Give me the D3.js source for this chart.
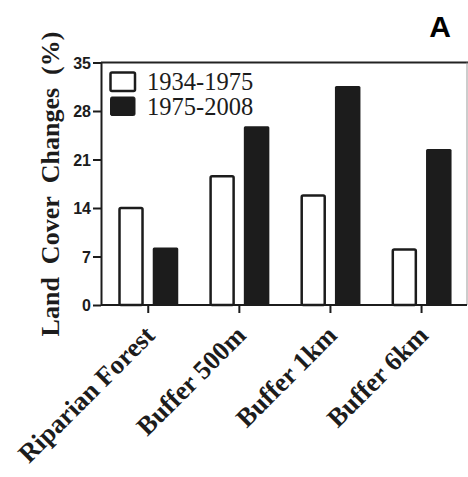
<!DOCTYPE html>
<html>
<head>
<meta charset="utf-8">
<script src="https://cdn.jsdelivr.net/npm/d3@7"></script>
<style>
  html, body { margin: 0; padding: 0; background: #fff; }
  svg { display: block; }
</style>
</head>
<body>
<svg id="chart" width="468" height="477"></svg>
<script>
const categories = ["Riparian Forest", "Buffer 500m", "Buffer 1km", "Buffer 6km"];
const seriesNames = ["1934-1975", "1975-2008"];
const values1934 = [14.0, 18.6, 15.8, 8.0];
const values1975 = [8.3, 25.8, 31.6, 22.5];
const yTicks = [0, 7, 14, 21, 28, 35];
const yTitle = "Land\u00a0 Cover\u00a0 Changes\u00a0 (%)";
const panelLabel = "A";

const svg = d3.select("#chart");
const pLeft = 101, pRight = 467, pTop = 62.5, pBottom = 305;

const x0 = d3.scaleBand().domain(categories).range([102.7, 467.1]).paddingInner(0).paddingOuter(0);
const bw = x0.bandwidth();
const x1 = d3.scaleBand().domain(seriesNames).range([bw / 2 - 30, bw / 2 + 30]).paddingInner(0.26).paddingOuter(0);
const y = d3.scaleLinear().domain([0, 35]).range([pBottom, pTop]);

const data = categories.map((c, i) => ({ cat: c, vals: [values1934[i], values1975[i]] }));

// frame lines: top and right
svg.append("line").attr("x1", pLeft).attr("x2", 468).attr("y1", pTop).attr("y2", pTop)
  .attr("stroke", "#222").attr("stroke-width", 2);
svg.append("line").attr("x1", pRight).attr("x2", pRight).attr("y1", pTop).attr("y2", pBottom)
  .attr("stroke", "#999").attr("stroke-width", 1);

// bars
const groups = svg.append("g").selectAll("g").data(data).join("g")
  .attr("transform", d => `translate(${x0(d.cat)},0)`);
groups.selectAll("rect").data(d => d.vals.map((v, j) => ({ s: seriesNames[j], v, j })))
  .join("rect")
  .attr("x", d => x1(d.s) + (d.j === 0 ? 1.25 : 0))
  .attr("width", d => x1.bandwidth() - (d.j === 0 ? 2.5 : 0))
  .attr("y", d => y(d.v))
  .attr("height", d => pBottom - y(d.v))
  .attr("rx", 1.5)
  .attr("fill", d => d.j === 0 ? "#fff" : "#1c1c1c")
  .attr("stroke", d => d.j === 0 ? "#1c1c1c" : "none")
  .attr("stroke-width", 2.5);

// y axis
const yAxis = svg.append("g").attr("transform", `translate(${pLeft},0)`)
  .call(d3.axisLeft(y).tickValues(yTicks).tickSize(8).tickPadding(2).tickSizeOuter(0));
yAxis.select(".domain").attr("stroke", "#1c1c1c").attr("stroke-width", 2);
yAxis.selectAll(".tick line").attr("stroke", "#1c1c1c").attr("stroke-width", 2);
yAxis.selectAll(".tick text").attr("font-family", "'Liberation Sans', Arial, sans-serif")
  .attr("font-weight", "bold").attr("font-size", 16).attr("fill", "#1c1c1c").attr("dy", "0.36em");

// x axis
const xAxis = svg.append("g").attr("transform", `translate(0,${pBottom})`)
  .call(d3.axisBottom(x0).tickSize(8).tickSizeOuter(0).tickPadding(0));
xAxis.select(".domain").attr("stroke", "#1c1c1c").attr("stroke-width", 2)
  .attr("d", `M${pLeft},0H${pRight}`);
xAxis.selectAll(".tick line").attr("stroke", "#1c1c1c").attr("stroke-width", 2);
xAxis.selectAll(".tick text")
  .attr("font-family", "'Liberation Serif', 'Times New Roman', serif")
  .attr("font-weight", "bold").attr("font-size", 26.5).attr("fill", "#1c1c1c")
  .attr("text-anchor", "end")
  .attr("transform", "translate(8,32) rotate(-45)")
  .attr("y", 0).attr("dy", 0);

// y title
svg.append("text")
  .attr("transform", "translate(59,184) rotate(-90)")
  .attr("text-anchor", "middle")
  .attr("font-family", "'Liberation Serif', 'Times New Roman', serif")
  .attr("font-weight", "bold").attr("font-size", 26).attr("fill", "#1c1c1c")
  .text(yTitle);

// legend
const legend = svg.append("g");
const legY = [72, 96.5];
seriesNames.forEach((s, j) => {
  legend.append("rect").attr("x", 110.5).attr("y", legY[j] + 0.5).attr("width", 24.5).attr("height", 18.5)
    .attr("rx", 1.5)
    .attr("fill", j === 0 ? "#fff" : "#1c1c1c").attr("stroke", "#1c1c1c").attr("stroke-width", j === 0 ? 2.5 : 1);
  legend.append("text").attr("x", 147).attr("y", legY[j] + 18)
    .attr("font-family", "'Liberation Serif', 'Times New Roman', serif")
    .attr("font-size", 24.5).attr("fill", "#1c1c1c").text(s);
});

// panel label
svg.append("text").attr("x", 440).attr("y", 37).attr("text-anchor", "middle")
  .attr("font-family", "'Liberation Sans', Arial, sans-serif").attr("font-weight", "bold")
  .attr("font-size", 30).attr("fill", "#000").text(panelLabel);
</script>
</body>
</html>
